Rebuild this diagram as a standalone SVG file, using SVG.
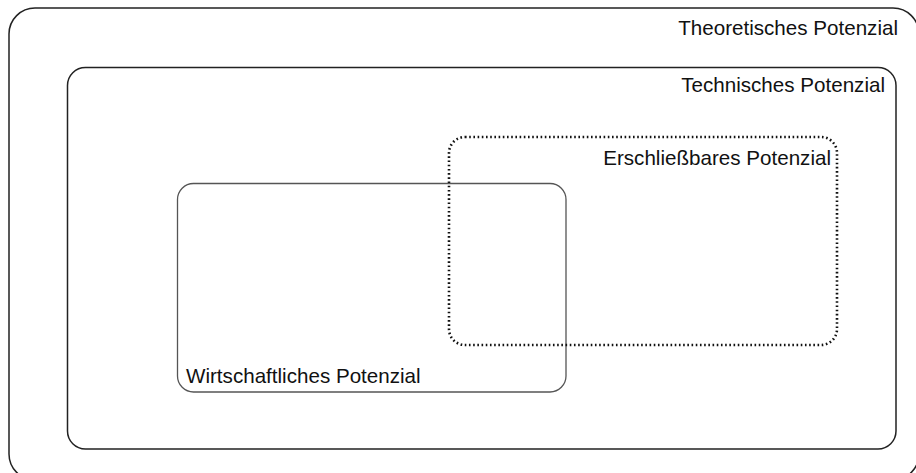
<svg xmlns="http://www.w3.org/2000/svg" width="916" height="473" viewBox="0 0 916 473">
<style>
.box{fill:none}
.lbl{font-family:"Liberation Sans",Arial,sans-serif;font-size:20.6px;fill:#111}
</style>
<rect width="916" height="473" fill="#fff"/>
<g id="theoretisch">
<rect class="box" x="9" y="8" width="910" height="472" rx="26" stroke="#222" stroke-width="1.5"/>
<text class="lbl" x="898" y="35" text-anchor="end">Theoretisches Potenzial</text>
</g>
<g id="technisch">
<rect class="box" x="67.5" y="67.5" width="828.5" height="381.5" rx="18" stroke="#222" stroke-width="1.5"/>
<text class="lbl" x="885" y="92" text-anchor="end">Technisches Potenzial</text>
</g>
<g id="wirtschaftlich">
<rect class="box" x="177.5" y="183.5" width="388.5" height="208.5" rx="16" stroke="#555" stroke-width="1.3"/>
<text class="lbl" x="186" y="383">Wirtschaftliches Potenzial</text>
</g>
<g id="erschliessbar">
<rect class="box" x="449" y="137" width="388" height="208" rx="16" stroke="#111" stroke-width="2.6" stroke-dasharray="1.6 2.6"/>
<text class="lbl" x="831" y="165" text-anchor="end">Erschließbares Potenzial</text>
</g>
<g id="connectors"/>
</svg>
